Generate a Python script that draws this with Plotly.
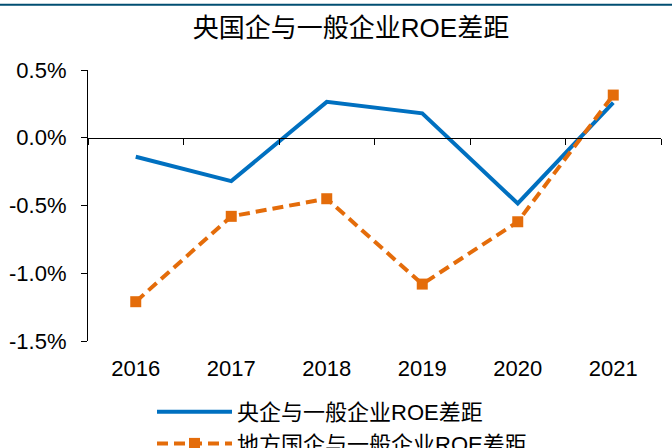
import plotly.graph_objects as go

years = ["2016", "2017", "2018", "2019", "2020", "2021"]
central_gap = [-0.14, -0.32, 0.265, 0.18, -0.485, 0.26]
local_gap = [-1.21, -0.58, -0.45, -1.08, -0.62, 0.315]
name_central = "央企与一般企业ROE差距"
name_local = "地方国企与一般企业ROE差距"
title_text = "央国企与一般企业ROE差距"
y_ticks = [0.5, 0.0, -0.5, -1.0, -1.5]
y_ticklabels = ["0.5%", "0.0%", "-0.5%", "-1.0%", "-1.5%"]

W, H = 672, 448
L, R, T, B = 88, 11, 70, 107
pw, ph = W - L - R, H - T - B

font_fam = "Liberation Sans, Arial, Noto Sans CJK SC, sans-serif"
cjk_fam = "Liberation Sans, Noto Sans CJK SC, sans-serif"

fig = go.Figure()
fig.add_trace(go.Scatter(
    x=years, y=central_gap, name=name_central, mode="lines",
    line=dict(color="#0070C0", width=4), hoverinfo="skip"))
fig.add_trace(go.Scatter(
    x=years, y=local_gap, name=name_local, mode="lines+markers",
    line=dict(color="#E46C0A", width=4, dash="11px,6px"),
    marker=dict(symbol="square", size=11, color="#E46C0A"), hoverinfo="skip"))
# helper trace for the zero-line axis with boundary ticks
fig.add_trace(go.Scatter(
    x=years, y=central_gap, xaxis="x2", mode="lines",
    line=dict(width=0, color="rgba(0,0,0,0)"), showlegend=False, hoverinfo="skip"))

fig.update_layout(
    width=W, height=H,
    margin=dict(l=L, r=R, t=T, b=B, autoexpand=False),
    paper_bgcolor="white", plot_bgcolor="white",
    showlegend=True,
    title=dict(text=title_text, x=351 / W, xref="container", xanchor="center",
               y=1 - 28 / H, yref="container", yanchor="middle",
               font=dict(family=cjk_fam, size=26, color="#000000")),
    xaxis=dict(type="category", showline=False, ticks="", showgrid=False, zeroline=False,
               tickfont=dict(family=font_fam, size=22, color="#000000"),
               ticklabelstandoff=12, range=[-0.5, 5.5], automargin=False),
    xaxis2=dict(type="category", overlaying="x", matches="x", anchor="free", position=0.75,
                showline=True, linecolor="#000000", linewidth=1.2,
                ticks="outside", ticklen=6, tickcolor="#000000", tickwidth=1.2,
                tickson="boundaries", showticklabels=False, showgrid=False, zeroline=False,
                automargin=False),
    yaxis=dict(range=[-1.5, 0.5], tickvals=y_ticks, ticktext=y_ticklabels,
               showline=True, linecolor="#000000", linewidth=1.2,
               ticks="outside", ticklen=6, tickcolor="#000000", tickwidth=1.2,
               showgrid=False, zeroline=False, automargin=False,
               tickfont=dict(family=font_fam, size=22, color="#000000"),
               ticklabelstandoff=10),
    legend=dict(orientation="v", xref="container", x=152 / W, xanchor="left",
                yref="container", y=1 - 391 / H, yanchor="top",
                font=dict(family=cjk_fam, size=22, color="#000000"),
                itemwidth=75, bgcolor="rgba(0,0,0,0)", tracegroupgap=0),
    shapes=[dict(type="line", xref="paper", yref="paper",
                 x0=-L / pw, x1=(W - L) / pw,
                 y0=1 + (T - 4.8) / ph, y1=1 + (T - 4.8) / ph,
                 line=dict(color="#004E72", width=2))],
)

fig.write_html("out.html", config={"displayModeBar": False},
               post_script="document.body.style.margin='0';document.body.style.overflow='hidden';")
